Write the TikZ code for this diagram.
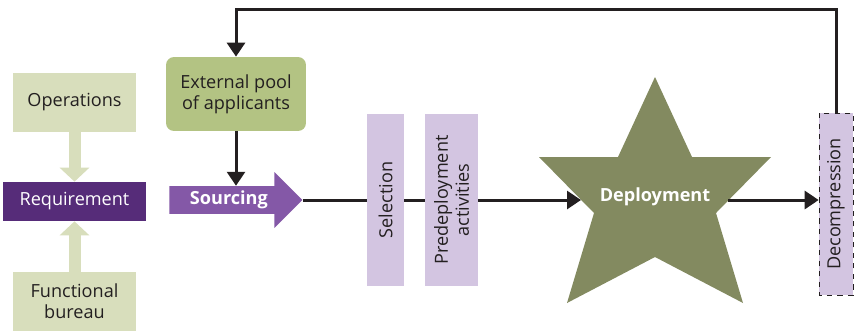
\documentclass[tikz,border=0pt]{standalone}
\usepackage{fontspec}
\setmainfont{Open Sans}
\usetikzlibrary{arrows.meta,shapes.arrows}

\definecolor{lightolive}{HTML}{D8DEBC}
\definecolor{poolgreen}{HTML}{B3C383}
\definecolor{reqpurple}{HTML}{562C79}
\definecolor{srcpurple}{HTML}{8458A7}
\definecolor{lavender}{HTML}{D3C5E1}
\definecolor{starolive}{HTML}{838A60}
\definecolor{ink}{HTML}{231F20}

\newcommand\labelfont{\fontsize{10.3}{12}\selectfont}

\tikzset{
  box/.style={inner sep=0pt, align=center, text=ink, font=\labelfont},
  phase/.style={box, fill=lavender, rotate=90},
  line/.style={ink, line width=0.06cm},
  flow/.style={line, -{Triangle[width=0.36cm,length=0.28cm]}},
  fatarrow/.style={lightolive, line width=0.24cm, -{Triangle[width=0.58cm,length=0.28cm]}}
}

\begin{document}
\begin{tikzpicture}[x=0.02cm, y=-0.02cm]
  \useasboundingbox (0,0) rectangle (855,332);

  % Requirement and its inputs
  \node[box, fill=lightolive, minimum width=2.46cm, minimum height=1.18cm] (ops) at (74.5,102.5) {Operations};
  \node[box, fill=reqpurple, text=white, minimum width=2.86cm, minimum height=0.78cm] (req) at (74.5,201.5) {Requirement};
  \node[box, fill=lightolive, minimum width=2.46cm, minimum height=1.18cm] (fb) at (74.5,301.5) {Functional\\bureau};
  \draw[fatarrow] (ops) -- (req);
  \draw[fatarrow] (fb) -- (req);

  % Pool and sourcing
  \node[box, fill=poolgreen, rounded corners=0.16cm, minimum width=2.8cm, minimum height=1.48cm] (pool) at (236,94) {External pool\\of applicants};
  \node[single arrow, fill=srcpurple, text=white, font=\labelfont\bfseries, inner xsep=0pt, inner ysep=0.09cm,
        minimum height=2.66cm, minimum width=1.08cm, single arrow head extend=0.28cm, anchor=tail] (src) at (169,200) {Sourcing};
  \draw[flow] (pool) -- (pool |- src.north);

  % Phases
  \node[phase, minimum width=3.44cm, minimum height=0.74cm] (sel) at (385.5,200) {Selection};
  \node[phase, minimum width=3.44cm, minimum height=1.06cm] (pre) at (451.5,200) {Predeployment\\activities};

  % Deployment star
  \fill[starolive] (655,77) -- (692,157) -- (771,157) -- (716,213) -- (743,303) -- (655,257)
    -- (567,303) -- (594,213) -- (539,157) -- (618,157) -- cycle;
  \node[text=white, font=\labelfont\bfseries] (dep) at (655,197) {Deployment};
  \coordinate (depin) at (581,200);
  \coordinate (depout) at (728,200);

  % Main line
  \draw[line] (src.tip) -- (sel);
  \draw[line] (sel) -- (pre);
  \draw[flow] (pre) -- (depin);

  % Decompression and feedback
  \node[phase, draw=ink, dashed, thin, minimum width=3.64cm, minimum height=0.68cm] (dec) at (836,204) {Decompression};
  \draw[flow] (depout) -- (depout -| dec.north);
  \coordinate (loop) at (236,9);
  \draw[flow] (dec.east) |- (loop) -- (pool);
\end{tikzpicture}
\end{document}
